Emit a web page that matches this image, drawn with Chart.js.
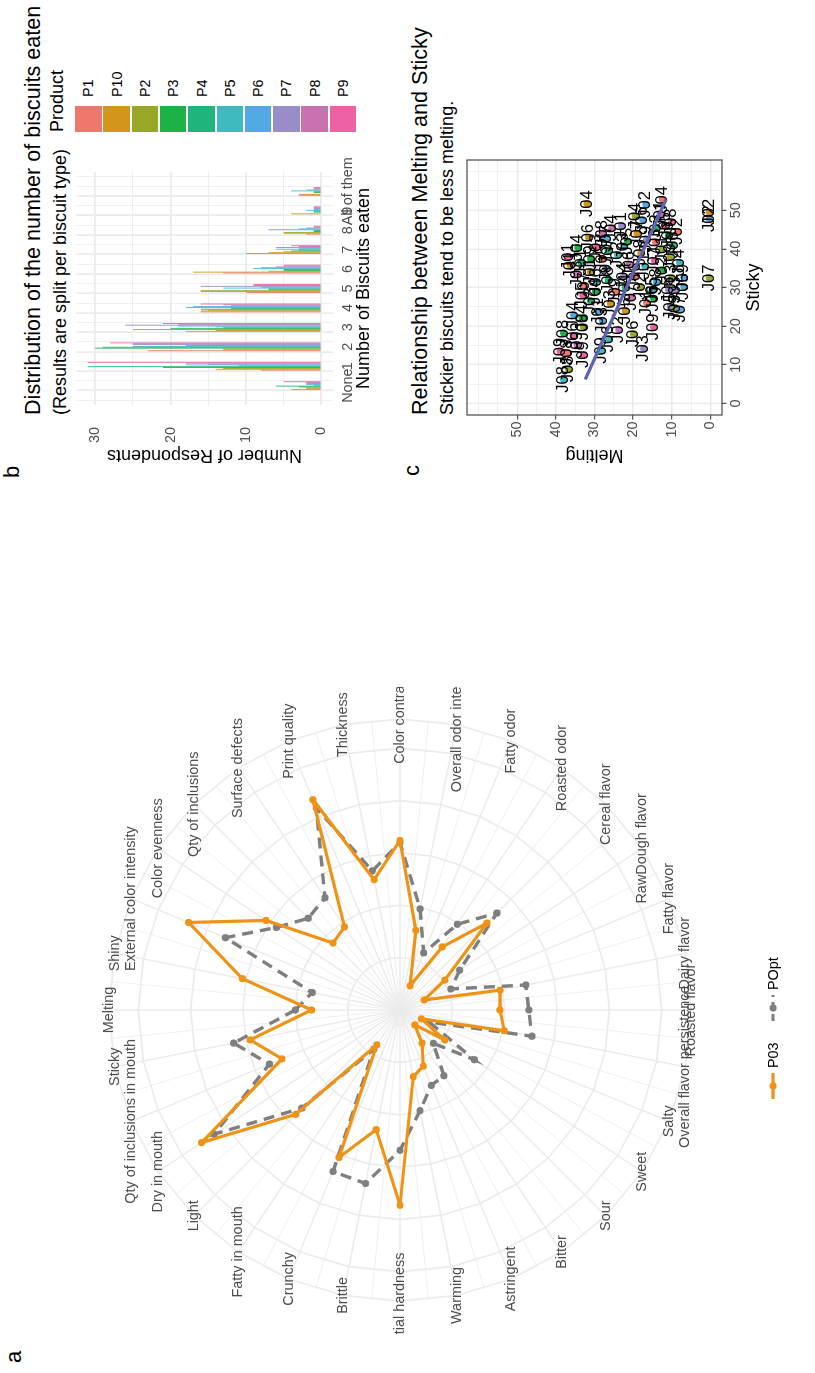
<!DOCTYPE html>
<html>
<head>
<meta charset="utf-8">
<title>Biscuits</title>
<script src="https://cdn.jsdelivr.net/npm/chart.js@4.4.1/dist/chart.umd.min.js"></script>
<style>
  html, body { margin: 0; padding: 0; background: #fff; }
  body { width: 815px; height: 1373px; overflow: hidden; position: relative; font-family: "Liberation Sans", Arial, sans-serif; }
  /* the figure is laid out landscape and turned a quarter turn */
  #fig { position: absolute; left: 0; top: 0; width: 1373px; height: 815px; background: #fff;
         transform-origin: 0 0; transform: translate(0, 1373px) rotate(-90deg); }
  #fig canvas, .t, .key { position: absolute; }
  .t { white-space: nowrap; line-height: 1; color: #000; }
</style>
</head>
<body>
<div id="fig">
  <div class="t" style="left:10px;top:3px;font-size:22px">a</div>
  <canvas id="radar" width="648" height="815" style="left:38px;top:0"></canvas>
  <div id="legA"></div>

  <div class="t" style="left:895px;top:1px;font-size:22px">b</div>
  <div class="t" style="left:958px;top:21.5px;font-size:21.6px">Distribution of the number of biscuits eaten</div>
  <div class="t" style="left:958px;top:51px;font-size:18px">(Results are split per biscuit type)</div>
  <canvas id="bars" width="340" height="320" style="left:890px;top:60px"></canvas>
  <div id="legB"></div>

  <div class="t" style="left:897px;top:401px;font-size:22px">c</div>
  <div class="t" style="left:958px;top:409px;font-size:21.6px">Relationship between Melting and Sticky</div>
  <div class="t" style="left:958px;top:438px;font-size:18px">Stickier biscuits tend to be less melting.</div>
  <canvas id="scatter" width="330" height="315" style="left:895px;top:460px"></canvas>
</div>

<script>
// ---------- a : sensory profile ----------
const attributes = ['Melting', 'Shiny', 'External color intensity', 'Color evenness', 'Qty of inclusions',
  'Surface defects', 'Print quality', 'Thickness', 'Color contrast', 'Overall odor intensity', 'Fatty odor',
  'Roasted odor', 'Cereal flavor', 'RawDough flavor', 'Fatty flavor', 'Dairy flavor', 'Roasted flavor',
  'Overall flavor persistence', 'Salty', 'Sweet', 'Sour', 'Bitter', 'Astringent', 'Warming',
  'Initial hardness', 'Brittle', 'Crunchy', 'Fatty in mouth', 'Light', 'Dry in mouth',
  'Qty of inclusions in mouth', 'Sticky'];
const p03Scores = [1.69, 3.07, 4.37, 3.08, 1.81, 1.91, 4.35, 2.54, 3.24, 1.55, 0.5, 1.45, 2.35, 1.03, 0.5, 1.95,
  1.91, 2.03, 0.44, 1.03, 0.4, 0.76, 1.16, 1.30, 3.73, 2.33, 3.05, 0.8, 2.82, 4.56, 2.44, 2.92];
const pOptScores = [2.0, 1.71, 3.61, 2.84, 2.48, 2.58, 4.18, 2.71, 3.2, 1.97, 1.18, 1.97, 2.62, 1.37, 1.05, 2.45,
  2.46, 2.57, 0.6, 1.71, 0.9, 1.51, 1.56, 1.96, 2.68, 3.38, 3.34, 0.9, 2.65, 4.27, 2.7, 3.24];
const radarRings = [0, 1, 2, 3, 4, 5, 5.56];

// ---------- b : biscuits eaten ----------
const products = ['P1', 'P10', 'P2', 'P3', 'P4', 'P5', 'P6', 'P7', 'P8', 'P9'];
const productColors = ['#EF776B', '#D3951A', '#98A826', '#1DB245', '#1FB57C', '#3FBAC0', '#52AAE2', '#998CC8', '#C873B0', '#EC62A2'];
const biscuitCounts = ['None', '1', '2', '3', '4', '5', '6', '7', '8', '9', 'All of them'];
const respP1  = [4, 8, 23, 18, 16, 10, 13, 10, 2, 0, 3];
const respP10 = [2, 14, 13, 14, 16, 16, 17, 7, 5, 4, 3];
const respP2  = [2, 13, 13, 25, 15, 16, 7, 5, 5, 0, 0];
const respP3  = [3, 21, 30, 20, 16, 7, 5, 4, 1, 1, 1];
const respP4  = [6, 31, 29, 13, 12, 7, 5, 3, 1, 1, 1];
const respP5  = [1, 11, 25, 14, 18, 13, 9, 6, 7, 2, 4];
const respP6  = [2, 18, 18, 19, 17, 8, 8, 3, 3, 1, 2];
const respP7  = [2, 15, 25, 26, 12, 16, 6, 6, 2, 1, 1];
const respP8  = [2, 18, 25, 19, 13, 9, 5, 3, 1, 1, 1];
const respP9  = [5, 31, 28, 21, 16, 9, 5, 4, 1, 1, 1];
const respondents = [respP1, respP10, respP2, respP3, respP4, respP5, respP6, respP7, respP8, respP9];
const countTicks = [0, 10, 20, 30];

// ---------- c : melting vs sticky ----------
const stickyScores = [51.7, 49.5, 47.8, 32.5, 52.8, 51.5, 48.5, 45.4, 42.7, 40.7, 40.3, 38.0, 35.8, 43.6, 46.1,
  38.0, 32.6, 29.4, 41.8, 6.2, 8.9, 13.5, 13.1, 18.2, 22.9, 22.1, 19.8, 15.2, 12.6, 13.7, 16.7, 14.2, 19.8, 18.0,
  19.1, 23.8, 25.1, 24.7, 24.4, 30.2, 29.4, 27.2, 29.4, 30.2, 25.9, 28.9, 31.5, 34.1, 36.5, 33.5, 30.5, 28.0,
  26.5, 37.5, 35.0, 32.0, 29.0, 33.0, 36.0, 38.5, 39.0, 35.5, 33.0, 31.5, 34.5, 37.0, 40.0, 42.5, 44.0, 45.5,
  47.5, 49.0, 47.0, 44.5, 41.0, 42.0, 46.0, 44.0, 40.5, 37.5, 27.5, 26.0, 36.5, 32.5, 39.5, 43.0, 30.0, 24.0,
  21.5, 17.5];
const meltingScores = [31.9, 0.3, 0.3, 0.3, 12.4, 16.7, 19.4, 25.5, 26.8, 22.4, 34.3, 36.7, 36.3, 10.9, 11.7,
  10.4, 6.9, 10.8, 14.2, 38.0, 36.7, 38.9, 37.1, 38.0, 35.4, 33.2, 32.8, 34.5, 32.8, 28.1, 26.3, 17.3, 14.7, 19.9,
  23.7, 28.9, 10.4, 9.1, 7.8, 6.9, 9.1, 14.7, 15.1, 18.1, 25.9, 29.8, 29.4, 31.1, 33.5, 34.5, 32.5, 33.0, 31.0,
  28.0, 27.0, 26.5, 24.5, 22.5, 21.0, 24.0, 18.0, 17.0, 19.5, 14.0, 12.5, 14.5, 12.5, 16.5, 19.0, 14.0, 17.5,
  13.0, 10.0, 8.5, 9.5, 21.5, 23.0, 28.0, 29.5, 31.0, 20.5, 16.5, 8.0, 10.0, 26.5, 31.5, 22.0, 22.0, 28.0, 35.5];
const judgeIds = ['J04', 'J02', 'J02', 'J07', 'J04', 'J02', 'J04', 'J04', 'J07', 'J03', 'J04', 'J01', 'J01', 'J06',
  'J05', 'J09', 'J09', 'J05', 'J03', 'J08', 'J08', 'J09', 'J08', 'J08', 'J04', 'J04', 'J08', 'J09', 'J09', 'J09',
  'J06', 'J03', 'J09', 'J06', 'J02', 'J01', 'J05', 'J09', 'J07', 'J05', 'J03', 'J06', 'J05', 'J02', 'J03', 'J04',
  'J06', 'J01', 'J01', 'J03', 'J07', 'J05', 'J02', 'J05', 'J07', 'J08', 'J09', 'J04', 'J06', 'J02', 'J08', 'J01',
  'J06', 'J08', 'J02', 'J07', 'J01', 'J09', 'J07', 'J03', 'J06', 'J01', 'J08', 'J02', 'J06', 'J05', 'J01', 'J08',
  'J03', 'J09', 'J07', 'J01', 'J04', 'J03', 'J07', 'J06', 'J04', 'J05', 'J03', 'J06'];
const productIds = ['P10', 'P10', 'P6', 'P2', 'P1', 'P6', 'P2', 'P8', 'P6', 'P5', 'P3', 'P9', 'P10', 'P3', 'P9',
  'P2', 'P6', 'P7', 'P1', 'P5', 'P2', 'P9', 'P1', 'P3', 'P6', 'P3', 'P2', 'P8', 'P9', 'P5', 'P5', 'P7', 'P9', 'P2',
  'P8', 'P6', 'P7', 'P2', 'P6', 'P6', 'P7', 'P3', 'P5', 'P2', 'P10', 'P3', 'P5', 'P10', 'P4', 'P8', 'P1', 'P9',
  'P4', 'P1', 'P7', 'P4', 'P1', 'P7', 'P8', 'P5', 'P10', 'P5', 'P1', 'P6', 'P3', 'P9', 'P2', 'P7', 'P10', 'P4',
  'P6', 'P8', 'P9', 'P1', 'P4', 'P3', 'P7', 'P8', 'P9', 'P3', 'P8', 'P1', 'P5', 'P2', 'P4', 'P10', 'P4', 'P10',
  'P6', 'P9'];
const trendSticky = [6.2, 52.8];
const trendMelting = [32.4, 11.5];
const scoreTicks = [0, 10, 20, 30, 40, 50];

// ---------- common look ----------
const FONT = '"Liberation Sans", Arial, sans-serif';
Chart.defaults.font.family = FONT;
Chart.defaults.animation = false;
const grid92 = '#EBEBEB';
const textGrey = '#4D4D4D';
const orange = '#EF9317';
const greyLine = '#7F7F7F';

// axis boxes of fixed size, without the extra room chart.js keeps for end labels
function fixBox(size) {
  return s => {
    if (s.isHorizontal()) s.height = size; else s.width = size;
    s.paddingTop = s.paddingBottom = s.paddingLeft = s.paddingRight = 0;
  };
}

// ---------- a : radar ----------
const radarText = {
  id: 'radarText',
  beforeDatasetsDraw(chart) {
    // thinner spokes half way between the attributes
    const r = chart.scales.r, ctx = chart.ctx;
    ctx.save();
    ctx.strokeStyle = grid92;
    ctx.lineWidth = 0.8;
    for (let i = 0; i < attributes.length; i++) {
      const p = r.getPointPosition(i + 0.5, r.drawingArea);
      ctx.beginPath();
      ctx.moveTo(r.xCenter, r.yCenter);
      ctx.lineTo(p.x, p.y);
      ctx.stroke();
    }
    ctx.restore();
  },
  afterDraw(chart) {
    const r = chart.scales.r, ctx = chart.ctx;
    ctx.save();
    ctx.font = '14.4px ' + FONT;
    ctx.fillStyle = textGrey;
    ctx.textAlign = 'center';
    ctx.textBaseline = 'middle';
    attributes.forEach((name, i) => {
      const p = r.getPointPosition(i, r.drawingArea);
      ctx.fillText(name, p.x, p.y);
    });
    ctx.restore();
  }
};

new Chart(document.getElementById('radar'), {
  type: 'radar',
  data: {
    labels: attributes,
    datasets: [{
      label: 'P03', data: p03Scores, borderColor: orange, backgroundColor: orange,
      borderWidth: 3.2, pointRadius: 3.6, pointBorderWidth: 0, pointBackgroundColor: orange,
      fill: false, tension: 0, borderJoinStyle: 'round'
    }, {
      label: 'POpt', data: pOptScores, borderColor: greyLine, backgroundColor: greyLine,
      borderWidth: 3.4, borderDash: [11, 7], pointRadius: 3.6, pointBorderWidth: 0,
      pointBackgroundColor: greyLine, fill: false, tension: 0
    }]
  },
  options: {
    responsive: false,
    layout: { autoPadding: false, padding: { left: 34, right: 32, top: 109, bottom: 124 } },
    plugins: { legend: { display: false }, tooltip: { enabled: false } },
    scales: {
      r: {
        min: 0, max: 5.56, startAngle: 0,
        afterBuildTicks: s => { s.ticks = radarRings.map(v => ({ value: v })); },
        ticks: { display: false },
        grid: { color: grid92, lineWidth: 1.6 },
        angleLines: { color: grid92, lineWidth: 1.4 },
        pointLabels: { display: false }
      }
    }
  },
  plugins: [radarText]
});

// legend of panel a (line + point keys)
const legA = document.getElementById('legA');
[{ name: 'P03', color: orange, dash: '', keyX: 274, textX: 305 },
 { name: 'POpt', color: greyLine, dash: '7 5', keyX: 352, textX: 383 }].forEach(item => {
  const key = document.createElement('div');
  key.className = 'key';
  key.style.cssText = `left:${item.keyX}px;top:760px;width:26px;height:26px`;
  key.innerHTML = `<svg width="26" height="26"><line x1="0" y1="13" x2="26" y2="13" stroke="${item.color}" stroke-width="3.2" stroke-dasharray="${item.dash}"/><circle cx="13" cy="13" r="3.6" fill="${item.color}"/></svg>`;
  legA.appendChild(key);
  const lab = document.createElement('div');
  lab.className = 't';
  lab.style.cssText = `left:${item.textX}px;top:765.5px;font-size:14.4px`;
  lab.textContent = item.name;
  legA.appendChild(lab);
});

// ---------- b : grouped bars ----------
const halfSteps = [];
for (let v = -0.5; v <= 10.5; v += 0.5) halfSteps.push(v);
const fiveSteps = [0, 5, 10, 15, 20, 25, 30];

new Chart(document.getElementById('bars'), {
  type: 'bar',
  data: {
    datasets: products.map((p, i) => ({
      label: p,
      data: respondents[i].map((v, k) => ({ x: k, y: v })),
      backgroundColor: productColors[i],
      borderWidth: 0,
      categoryPercentage: 0.9,
      barPercentage: 1
    }))
  },
  options: {
    responsive: false,
    layout: { autoPadding: false, padding: { left: 0, right: 29, top: 16, bottom: 0 } },
    plugins: { legend: { display: false }, tooltip: { enabled: false } },
    scales: {
      x: {
        type: 'linear', min: -0.995, max: 10.995, offset: false,
        afterBuildTicks: s => { s.ticks = halfSteps.map(v => ({ value: v })); },
        afterFit: fixBox(47),
        grid: { color: grid92, drawTicks: false,
                lineWidth: c => (c.tick && Number.isInteger(c.tick.value)) ? 1.7 : 0.8 },
        border: { display: false },
        ticks: { autoSkip: false, maxRotation: 0, padding: 6, color: textGrey, font: { size: 14.4 },
                 callback: v => Number.isInteger(v) ? biscuitCounts[v] : '' },
        title: { display: true, text: 'Number of Biscuits eaten', color: '#000', font: { size: 18 },
                 padding: { top: 0, bottom: 5 } }
      },
      y: {
        min: -1.55, max: 32.55,
        afterBuildTicks: s => { s.ticks = fiveSteps.map(v => ({ value: v })); },
        afterFit: fixBox(78),
        grid: { color: grid92, drawTicks: false,
                lineWidth: c => (c.tick && countTicks.includes(c.tick.value)) ? 1.7 : 0.8 },
        border: { display: false },
        ticks: { padding: 22, color: textGrey, font: { size: 14.4 },
                 callback: v => countTicks.includes(v) ? String(v) : '' },
        title: { display: true, text: 'Number of Respondents', color: '#000', font: { size: 18 },
                 padding: { top: 17, bottom: 0 } }
      }
    }
  }
});

// legend of panel b
const legB = document.getElementById('legB');
const legTitle = document.createElement('div');
legTitle.className = 't';
legTitle.style.cssText = 'left:1241px;top:47.5px;font-size:18px';
legTitle.textContent = 'Product';
legB.appendChild(legTitle);
products.forEach((p, i) => {
  const top = 75 + i * 28.3;
  const sw = document.createElement('div');
  sw.className = 'key';
  sw.style.cssText = `left:1240.5px;top:${top}px;width:26.5px;height:26.5px;background:${productColors[i]}`;
  legB.appendChild(sw);
  const lab = document.createElement('div');
  lab.className = 't';
  lab.style.cssText = `left:1276px;top:${top + 6.3}px;font-size:14.4px`;
  lab.textContent = p;
  legB.appendChild(lab);
});

// ---------- c : labelled scatter ----------
const scoreGrid = [0, 5, 10, 15, 20, 25, 30, 35, 40, 45, 50, 55, 60];
const isMajor = c => c.tick && scoreTicks.includes(c.tick.value);

const judgeText = {
  id: 'judgeText',
  afterDatasetDraw(chart, args) {
    if (args.index !== 1) return;
    const ctx = chart.ctx, area = chart.chartArea;
    ctx.save();
    ctx.beginPath();
    ctx.rect(area.left, area.top, area.width, area.height);
    ctx.clip();
    ctx.font = '16.5px ' + FONT;
    ctx.fillStyle = '#000';
    ctx.textAlign = 'center';
    ctx.textBaseline = 'middle';
    args.meta.data.forEach((pt, i) => ctx.fillText(judgeIds[i], pt.x, pt.y));
    ctx.restore();
  },
  afterDraw(chart) {
    const ctx = chart.ctx, a = chart.chartArea;
    ctx.save();
    ctx.strokeStyle = '#4A4A4A';
    ctx.lineWidth = 1.2;
    ctx.strokeRect(a.left, a.top, a.width, a.height);
    ctx.restore();
  }
};

function scoreAxis(title, isX) {
  return {
    type: 'linear', min: -3, max: 63,
    afterBuildTicks: s => { s.ticks = scoreGrid.map(v => ({ value: v })); },
    afterFit: fixBox(isX ? 53 : 63),
    grid: { color: grid92, lineWidth: c => isMajor(c) ? 1.4 : 0.7, drawTicks: true, tickLength: 4.5,
            tickWidth: 1, tickColor: c => isMajor(c) ? '#333333' : 'rgba(0,0,0,0)' },
    border: { display: false },
    ticks: { autoSkip: false, maxRotation: 0, padding: isX ? 1 : 2, color: textGrey, font: { size: 14.4 },
             callback: v => scoreTicks.includes(v) ? String(v) : '' },
    title: { display: true, text: title, color: '#000', font: { size: 18 },
             padding: isX ? { top: 0, bottom: 9.7 } : { top: 12.2, bottom: 0 } }
  };
}

new Chart(document.getElementById('scatter'), {
  type: 'scatter',
  data: {
    datasets: [{
      type: 'line', label: 'trend',
      data: trendSticky.map((s, i) => ({ x: s, y: trendMelting[i] })),
      borderColor: '#5F63B0', borderWidth: 3.2, pointRadius: 0, fill: false
    }, {
      type: 'scatter', label: 'judges',
      data: stickyScores.map((s, i) => ({ x: s, y: meltingScores[i] })),
      pointRadius: 3.6, pointBorderWidth: 0,
      pointBackgroundColor: productIds.map(p => productColors[products.indexOf(p)])
    }]
  },
  options: {
    responsive: false,
    layout: { autoPadding: false, padding: { left: 0, right: 12, top: 7, bottom: 0 } },
    plugins: { legend: { display: false }, tooltip: { enabled: false } },
    scales: { x: scoreAxis('Sticky', true), y: scoreAxis('Melting', false) }
  },
  plugins: [judgeText]
});
</script>
</body>
</html>
